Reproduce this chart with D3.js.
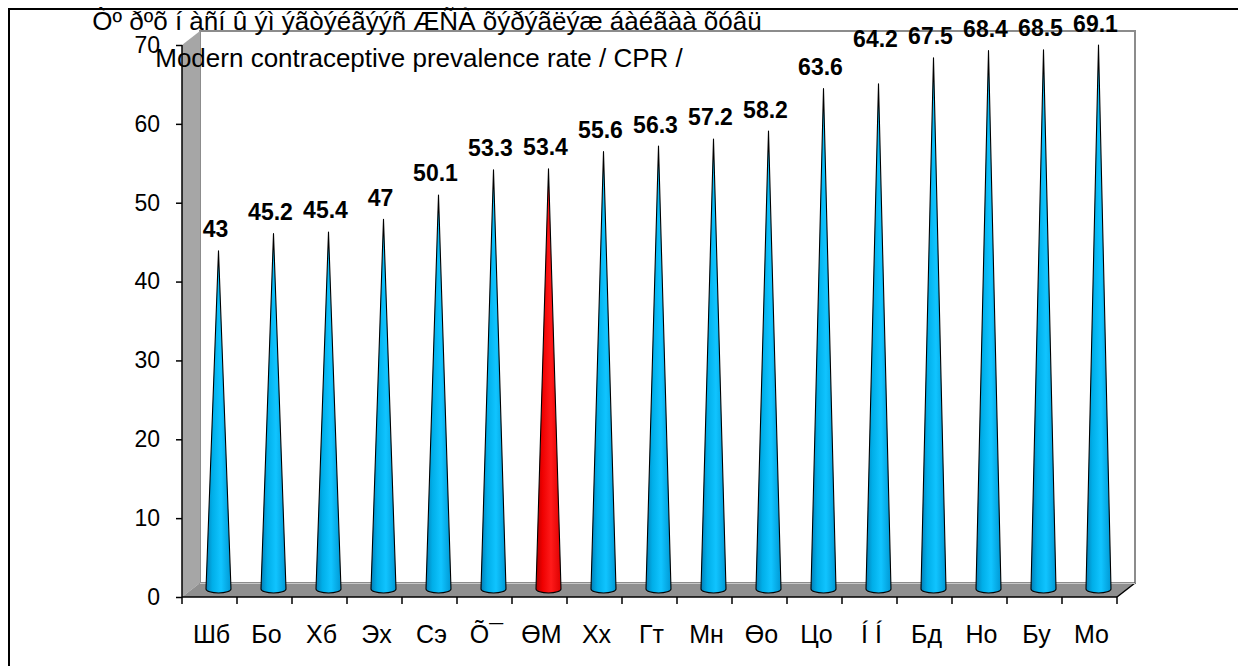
<!DOCTYPE html>
<html lang="mn">
<head>
<meta charset="utf-8">
<title>CPR cones</title>
<script src="https://cdn.jsdelivr.net/npm/d3@7/dist/d3.min.js"></script>
<style>
  body { margin: 0; background: #fff; }
  svg { display: block; font-family: "Liberation Sans", Arial, sans-serif; }
</style>
</head>
<body>
<script>
"use strict";

// chart data
const categories = ["Шб", "Бо", "Хб", "Эх", "Сэ", "Õ¯", "ӨМ", "Хх", "Гт", "Мн",
                    "Өо", "Цо", "Í Í", "Бд", "Но", "Бу", "Мо"];
const values = [43, 45.2, 45.4, 47, 50.1, 53.3, 53.4, 55.6, 56.3, 57.2,
                58.2, 63.6, 64.2, 67.5, 68.4, 68.5, 69.1];
const highlight = ["ӨМ"];
const yTicks = [0, 10, 20, 30, 40, 50, 60, 70];
const titleLines = ["Òº ðºõ í àñí û ýì ýãòýéãýýñ ÆÑÀ õýðýãëýæ áàéãàà õóâü",
                    "Modern contraceptive prevalence rate / CPR /"];

const W = 1238, H = 666;
// plot box (front plane) and 3d depth shift
const pLeft = 182, pRight = 1117, pBottom = 597, pTop = 45;
const dx = 18, dy = -14;

const svg = d3.select("body").append("svg")
  .attr("width", W).attr("height", H);

const x = d3.scaleBand().domain(categories).range([pLeft, pRight]);
const y = d3.scaleLinear().domain([0, 70]).range([pBottom, pTop]);

// outer frame
svg.append("rect")
  .attr("x", 9).attr("y", 9).attr("width", W + 20).attr("height", H + 20)
  .attr("fill", "none").attr("stroke", "#000").attr("stroke-width", 2);

// back wall
svg.append("rect")
  .attr("x", pLeft + dx).attr("y", pTop + dy)
  .attr("width", pRight - pLeft).attr("height", pBottom - pTop)
  .attr("fill", "#fff").attr("stroke", "#8c8c8c").attr("stroke-width", 2);

// side wall
svg.append("polygon")
  .attr("points", [[pLeft, pBottom], [pLeft, pTop], [pLeft + dx, pTop + dy], [pLeft + dx, pBottom + dy]].join(" "))
  .attr("fill", "#a6a6a6");

// floor
svg.append("polygon")
  .attr("points", [[pLeft, pBottom], [pRight, pBottom], [pRight + dx, pBottom + dy], [pLeft + dx, pBottom + dy]].join(" "))
  .attr("fill", "#8f8f8f");
svg.append("line")
  .attr("x1", pRight).attr("y1", pBottom).attr("x2", pRight + dx).attr("y2", pBottom + dy)
  .attr("stroke", "#000").attr("stroke-width", 1.5);
svg.append("line")
  .attr("x1", pLeft + dx).attr("y1", pBottom + dy + 0.5).attr("x2", pRight + dx).attr("y2", pBottom + dy + 0.5)
  .attr("stroke", "#c8c8c8").attr("stroke-width", 1);

// gradients for cones
const defs = svg.append("defs");
function grad(id, stops) {
  const g = defs.append("linearGradient").attr("id", id)
    .attr("x1", "0%").attr("x2", "100%").attr("y1", "0%").attr("y2", "0%");
  stops.forEach(s => g.append("stop").attr("offset", s[0]).attr("stop-color", s[1]));
}
grad("blueCone", [["0%", "#0680b8"], ["25%", "#00aee8"], ["60%", "#10c4ff"], ["100%", "#0098d4"]]);
grad("redCone", [["0%", "#b00000"], ["25%", "#ee0000"], ["60%", "#ff1a1a"], ["100%", "#dd0000"]]);

// cones sit half way into the depth
const rx = 12.5, ry = 4;
svg.append("g").selectAll("path")
  .data(categories.map((c, i) => ({ cat: c, v: values[i] })))
  .join("path")
  .attr("d", d => {
    const cx = x(d.cat) + x.bandwidth() / 2 + dx / 2;
    const by = pBottom + dy / 2;
    const ty = y(d.v) + dy / 2;
    return `M${cx - rx},${by - 1} L${cx},${ty} L${cx + rx},${by - 1} A${rx},${ry} 0 0 1 ${cx - rx},${by - 1} Z`;
  })
  .attr("fill", d => highlight.includes(d.cat) ? "url(#redCone)" : "url(#blueCone)")
  .attr("stroke", "#000").attr("stroke-width", 1.1).attr("stroke-linejoin", "round");

// axes
const yAxis = svg.append("g").attr("transform", `translate(${pLeft},0)`)
  .call(d3.axisLeft(y).tickValues(yTicks).tickSize(6).tickPadding(16));
yAxis.select(".domain").attr("stroke", "#000").attr("stroke-width", 1.5).attr("d", `M0,${pBottom}V${pTop}`);
yAxis.selectAll(".tick line").attr("stroke", "#000").attr("stroke-width", 1.5);
yAxis.selectAll(".tick text").attr("font-size", 23).attr("fill", "#000")
  .attr("font-family", "Liberation Sans, Arial, sans-serif");

const xAxis = svg.append("g").attr("transform", `translate(0,${pBottom})`);
xAxis.append("line").attr("x1", pLeft).attr("x2", pRight).attr("stroke", "#000").attr("stroke-width", 1.5);
const edges = d3.range(categories.length + 1).map(i => pLeft + i * x.step());
xAxis.selectAll(".xt").data(edges).join("line")
  .attr("class", "xt")
  .attr("x1", d => d).attr("x2", d => d).attr("y1", 0).attr("y2", 7)
  .attr("stroke", "#000").attr("stroke-width", 1.5);
xAxis.selectAll(".xl").data(categories).join("text")
  .attr("class", "xl")
  .attr("x", d => x(d) + x.bandwidth() / 2 + 2)
  .attr("y", 46)
  .attr("text-anchor", "middle").attr("font-size", 25)
  .text(d => d);

// value labels (one was moved up by hand in the original)
const labelNudge = { "Í Í": -23 };
svg.append("g").selectAll("text")
  .data(categories.map((c, i) => ({ cat: c, v: values[i] })))
  .join("text")
  .attr("x", d => x(d.cat) + x.bandwidth() / 2 + dx / 2 - 3)
  .attr("y", d => y(d.v) + dy / 2 - 13.5 + (labelNudge[d.cat] || 0))
  .attr("text-anchor", "middle").attr("font-size", 23).attr("font-weight", "bold")
  .text(d => d.v);

// title
svg.append("g").selectAll("text").data(titleLines).join("text")
  .attr("x", (d, i) => i ? 419 : 427).attr("y", (d, i) => 30 + i * 37)
  .attr("text-anchor", "middle").attr("font-size", 26)
  .text(d => d);
</script>
</body>
</html>
